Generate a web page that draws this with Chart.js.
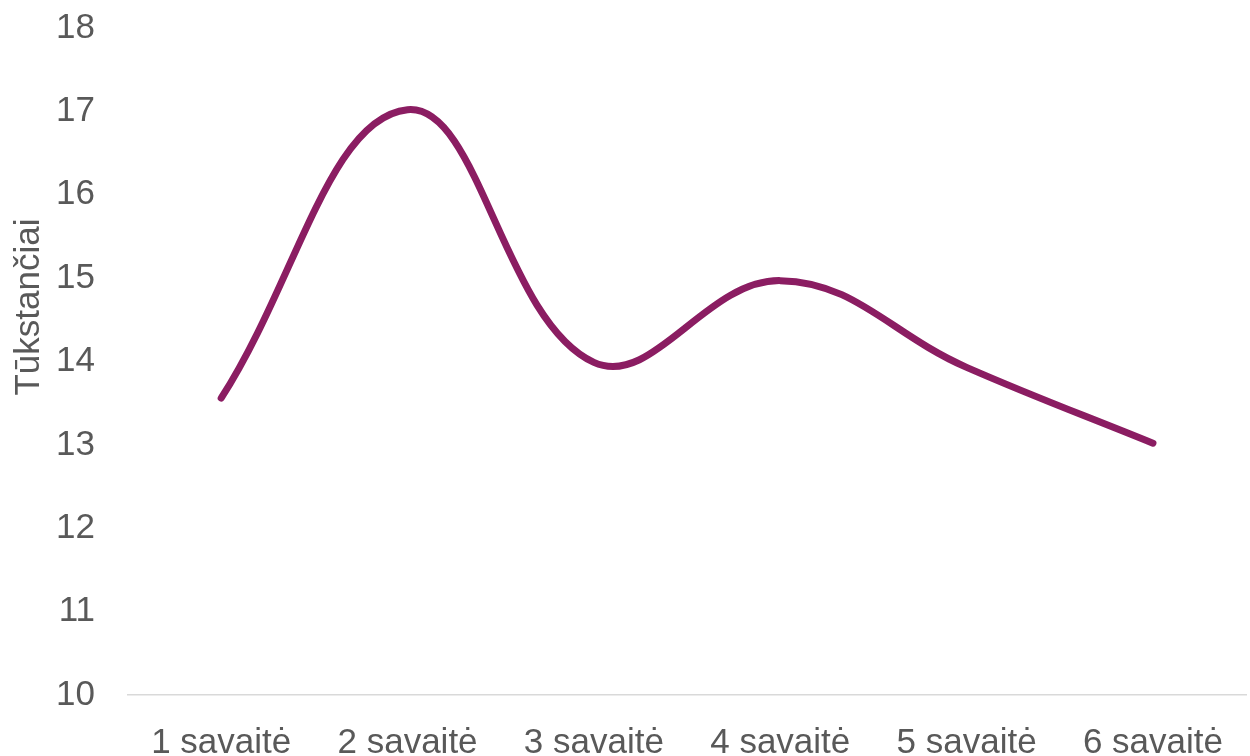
<!DOCTYPE html>
<html>
<head>
<meta charset="utf-8">
<script src="https://cdn.jsdelivr.net/npm/chart.js@4"></script>
<style>
  body { margin: 0; background: #fff; }
</style>
</head>
<body>
<canvas id="line-chart" width="1250" height="756"></canvas>
<script>
var weeks = ["1 savaitė", "2 savaitė", "3 savaitė", "4 savaitė", "5 savaitė", "6 savaitė"];
var values = [13.56, 17.02, 13.99, 14.97, 13.93, 13.02];
var yTitle = "Tūkstančiai";

// y axis title drawn lower than the axis centre, like in the original
var yTitlePlugin = {
  id: 'yTitle',
  afterDraw: function(chart) {
    var ctx = chart.ctx;
    ctx.save();
    ctx.translate(29, 307);
    ctx.rotate(-Math.PI / 2);
    ctx.font = '35px "Liberation Sans", Arial, sans-serif';
    ctx.fillStyle = '#595959';
    ctx.textAlign = 'center';
    ctx.textBaseline = 'middle';
    ctx.fillText(yTitle, 0, 0);
    ctx.restore();
  }
};

new Chart(document.getElementById("line-chart"), {
  type: 'line',
  data: {
    labels: weeks,
    datasets: [{
      data: values,
      borderColor: "#8B1D62",
      borderWidth: 7,
      borderCapStyle: 'round',
      borderJoinStyle: 'round',
      pointRadius: 0,
      tension: 0.4,
      fill: false
    }]
  },
  plugins: [yTitlePlugin],
  options: {
    responsive: false,
    animation: false,
    layout: { padding: { top: 28, right: 0, left: 0, bottom: 0 } },
    plugins: {
      legend: { display: false },
      tooltip: { enabled: false }
    },
    scales: {
      x: {
        offset: true,
        grid: { display: false, drawTicks: false, offset: true },
        border: { display: true, color: '#d9d9d9', width: 1.5 },
        ticks: {
          color: '#595959',
          padding: 27,
          maxRotation: 0,
          font: { family: '"Liberation Sans", Arial, sans-serif', size: 35 }
        },
        afterFit: function(s) { s.height = 61; }
      },
      y: {
        min: 10,
        max: 18,
        grid: { display: false, drawTicks: false },
        border: { display: false },
        ticks: {
          stepSize: 1,
          color: '#595959',
          padding: 33,
          font: { family: '"Liberation Sans", Arial, sans-serif', size: 35 }
        },
        afterFit: function(s) {
          s.width = 128;
          s.paddingTop = 0;
          s.paddingBottom = 0;
        }
      }
    }
  }
});
</script>
</body>
</html>
